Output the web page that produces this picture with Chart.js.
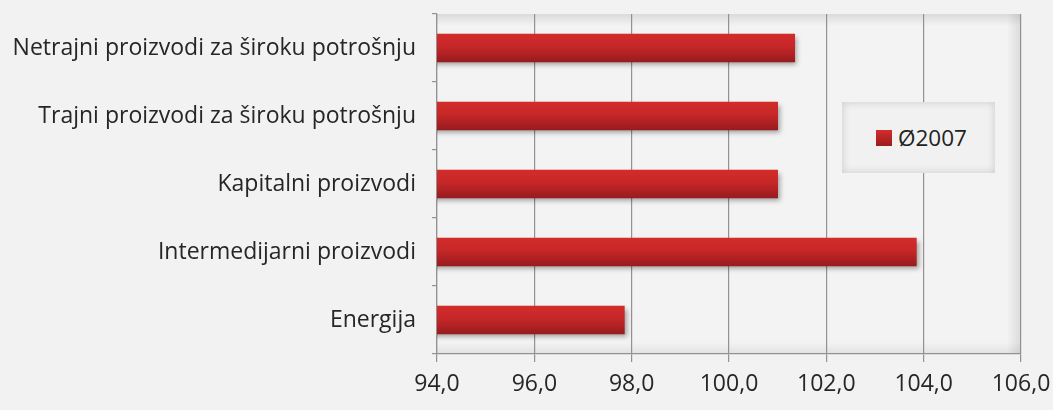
<!DOCTYPE html>
<html>
<head>
<meta charset="utf-8">
<script src="https://cdn.jsdelivr.net/npm/chart.js@4/dist/chart.umd.min.js"></script>
<style>
  html, body { margin: 0; padding: 0; background: #f2f2f2; }
  #wrap { position: relative; width: 1053px; height: 410px; }
  #legend {
    position: absolute; left: 842px; top: 102px; width: 153px; height: 71px;
    background: #f1f1f1; box-shadow: inset 0 0 9px rgba(0,0,0,0.16);
    font-family: "Open Sans", sans-serif; font-size: 22.5px; color: #222;
    display: flex; align-items: center; box-sizing: border-box; padding-left: 34px;
  }
  #legend .sw { width: 16px; height: 16px; margin-right: 6px;
    background: linear-gradient(#d32d2a, #9b1b1f); }
</style>
</head>
<body>
<div id="wrap">
  <canvas id="c" width="1053" height="410"></canvas>
  <div id="legend"><span class="sw"></span><span id="legend-text"></span></div>
</div>
<script>
// categories top to bottom
const categories = [
    'Netrajni proizvodi za široku potrošnju',
    'Trajni proizvodi za široku potrošnju',
    'Kapitalni proizvodi',
    'Intermedijarni proizvodi',
    'Energija'
];
const seriesName = 'Ø2007';
const values2007 = [101.35, 101.0, 101.0, 103.85, 97.85];
const xMin = 94, xMax = 106, xStep = 2;

document.getElementById('legend-text').textContent = seriesName;

const BAR_T = 28;
const FONT = '"Open Sans", sans-serif';

// bar fill: vertical gradient per bar
function barFill(c) {
    const chart = c.chart;
    const ys = chart.scales.y;
    if (!ys || c.dataIndex === undefined) return '#c02527';
    const cy = ys.getPixelForValue(c.dataIndex);
    if (!isFinite(cy)) return '#c02527';
    const g = chart.ctx.createLinearGradient(0, cy - BAR_T / 2, 0, cy + BAR_T / 2);
    g.addColorStop(0, '#d22d2a');
    g.addColorStop(0.45, '#c62728');
    g.addColorStop(1, '#981b1f');
    return g;
}

// plot background with soft inner shading at edges
const plotBg = {
    id: 'plotBg',
    beforeDraw(chart) {
        const { ctx, chartArea: a } = chart;
        ctx.save();
        ctx.fillStyle = '#f3f3f3';
        ctx.fillRect(a.left, a.top, a.right - a.left, a.bottom - a.top);
        let g = ctx.createLinearGradient(0, a.top, 0, a.top + 12);
        g.addColorStop(0, 'rgba(0,0,0,0.10)'); g.addColorStop(1, 'rgba(0,0,0,0)');
        ctx.fillStyle = g; ctx.fillRect(a.left, a.top, a.right - a.left, 12);
        g = ctx.createLinearGradient(a.right, 0, a.right - 14, 0);
        g.addColorStop(0, 'rgba(0,0,0,0.10)'); g.addColorStop(1, 'rgba(0,0,0,0)');
        ctx.fillStyle = g; ctx.fillRect(a.right - 14, a.top, 14, a.bottom - a.top);
        g = ctx.createLinearGradient(0, a.bottom, 0, a.bottom - 12);
        g.addColorStop(0, 'rgba(0,0,0,0.07)'); g.addColorStop(1, 'rgba(0,0,0,0)');
        ctx.fillStyle = g; ctx.fillRect(a.left, a.bottom - 12, a.right - a.left, 12);
        ctx.restore();
    },
    beforeDatasetsDraw(chart) {
        const ctx = chart.ctx;
        ctx.save();
        ctx.shadowColor = 'rgba(0,0,0,0.35)';
        ctx.shadowBlur = 5;
        ctx.shadowOffsetX = 2;
        ctx.shadowOffsetY = 3;
    },
    afterDatasetsDraw(chart) {
        chart.ctx.restore();
    }
};

new Chart(document.getElementById('c'), {
    type: 'bar',
    data: {
        labels: categories,
        datasets: [{
            label: seriesName,
            data: values2007,
            backgroundColor: barFill,
            borderWidth: 0,
            barThickness: BAR_T
        }]
    },
    options: {
        indexAxis: 'y',
        responsive: false,
        animation: false,
        layout: { padding: { top: 14, right: 32, left: 0, bottom: 0 } },
        plugins: { legend: { display: false }, tooltip: { enabled: false } },
        scales: {
            x: {
                min: xMin, max: xMax,
                ticks: {
                    stepSize: xStep,
                    color: '#262626',
                    font: { family: FONT, size: 23 },
                    padding: 9,
                    callback: v => v.toFixed(1).replace('.', ',')
                },
                grid: { color: '#929292', lineWidth: 1.2, tickLength: 8 },
                border: { color: '#929292', width: 1.2 },
                afterFit: s => { s.height = 56; s.paddingLeft = 0; s.paddingRight = 0; }
            },
            y: {
                ticks: {
                    color: '#262626',
                    font: { family: FONT, size: 23 },
                    padding: 16
                },
                grid: { offset: true, drawOnChartArea: false, color: '#929292', lineWidth: 1.2, tickLength: 5 },
                border: { color: '#929292', width: 1.2 },
                afterFit: s => { s.width = 437; s.paddingTop = 0; s.paddingBottom = 0; }
            }
        }
    },
    plugins: [plotBg]
});
</script>
</body>
</html>
